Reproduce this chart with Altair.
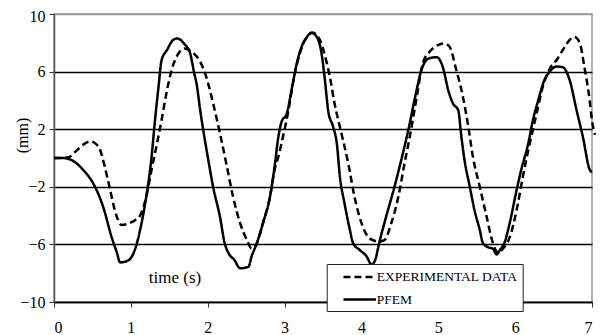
import altair as alt
import pandas as pd

series_names = ["EXPERIMENTAL DATA", "PFEM"]
x_ticks = [0, 1, 2, 3, 4, 5, 6, 7]
y_ticks = [-10, -6, -2, 2, 6, 10]

exp_t = [0, 0.1, 0.19, 0.3, 0.4, 0.47, 0.54, 0.6, 0.66, 0.73, 0.79, 0.88, 0.99, 1.06, 1.12,
         1.2, 1.27, 1.34, 1.40, 1.47, 1.53, 1.62, 1.70, 1.77, 1.81, 1.90, 1.98, 2.07, 2.16,
         2.25, 2.33, 2.42, 2.51, 2.57, 2.64, 2.72, 2.81, 2.87, 2.92, 2.98, 3.05, 3.11, 3.2,
         3.29, 3.37, 3.46, 3.54, 3.59, 3.65, 3.74, 3.83, 3.91, 4.0, 4.11, 4.22, 4.30, 4.39,
         4.48, 4.56, 4.63, 4.72, 4.80, 4.89, 5.0, 5.08, 5.15, 5.23, 5.32, 5.39, 5.45, 5.54,
         5.63, 5.71, 5.78, 5.84, 5.93, 6.02, 6.10, 6.19, 6.28, 6.36, 6.45, 6.54, 6.62, 6.71,
         6.77, 6.84, 6.90, 6.97, 7.0, 7.04]
exp_v = [0, 0, 0.05, 0.55, 1.0, 1.15, 1.0, 0.56, -0.6, -2.2, -3.6, -4.65, -4.5, -4.3, -4.0,
         -2.7, -0.8, 1.0, 2.64, 4.7, 6.1, 7.27, 7.6, 7.45, 7.3, 6.7, 5.65, 3.8, 1.7,
         -0.6, -2.7, -4.5, -5.7, -6.27, -5.9, -4.5, -2.7, -0.83, 0.1, 1.5, 3.3, 5.2, 7.3,
         8.4, 8.7, 8.2, 6.8, 5.6, 3.8, 1.7, -0.4, -2.7, -4.5, -5.6, -5.8, -5.7, -4.5,
         -2.7, -0.4, 1.5, 4.26, 6.6, 7.4, 7.85, 7.96, 7.7, 6.2, 4.26, 2.2, 0.1, -2.0,
         -4.1, -5.9, -6.6, -6.3, -5.5, -3.6, -1.3, 1.0, 3.1, 4.95, 6.2, 6.8, 7.5, 8.2,
         8.4, 8.0, 6.35, 4.0, 2.6, 1.6]

pfem_t = [0, 0.1, 0.18, 0.3, 0.38, 0.51, 0.64, 0.75, 0.82, 0.86, 0.97, 1.05, 1.14, 1.2,
          1.27, 1.31, 1.36, 1.40, 1.47, 1.55, 1.60, 1.70, 1.77, 1.82, 1.86, 1.90, 1.94, 2.0,
          2.07, 2.16, 2.22, 2.27, 2.35, 2.42, 2.53, 2.57, 2.64, 2.72, 2.81, 2.87, 2.92, 2.96,
          3.03, 3.09, 3.16, 3.22, 3.29, 3.35, 3.42, 3.48, 3.52, 3.57, 3.63, 3.68, 3.72, 3.78,
          3.85, 3.89, 3.98, 4.07, 4.13, 4.17, 4.24, 4.32, 4.43, 4.52, 4.61, 4.70, 4.78, 4.87,
          4.98, 5.06, 5.13, 5.19, 5.26, 5.30, 5.34, 5.41, 5.47, 5.54, 5.58, 5.65, 5.71, 5.76,
          5.80, 5.86, 5.93, 6.02, 6.08, 6.17, 6.23, 6.30, 6.38, 6.45, 6.54, 6.62, 6.71, 6.80,
          6.88, 6.97, 7.0]
pfem_v = [0, 0, -0.05, -0.4, -0.83, -1.76, -3.4, -5.5, -6.6, -7.25, -7.1, -6.4, -4.5, -2.7,
          0.1, 2.4, 4.95, 6.8, 7.5, 8.2, 8.3, 7.9, 7.3, 6.0, 5.0, 3.4, 2.0, 0.1,
          -2.0, -4.1, -5.9, -6.6, -7.1, -7.66, -7.55, -6.85, -5.9, -4.5, -2.7, -0.6, 1.5, 2.5,
          3.1, 4.7, 6.6, 7.7, 8.4, 8.7, 8.4, 7.3, 5.65, 3.2, 2.2, 1.0, -1.3, -3.15,
          -5.0, -5.9, -6.4, -6.85, -7.4, -7.2, -5.7, -4.1, -2.0, -0.1, 1.94, 4.26, 6.1, 6.9,
          7.0, 6.3, 4.7, 3.8, 3.3, 1.5, -0.1, -2.0, -3.6, -5.0, -5.9, -6.2, -6.3, -6.7,
          -6.4, -5.9, -4.5, -2.2, -0.8, 1.0, 2.6, 4.0, 5.4, 6.0, 6.35, 6.3, 5.4, 3.3,
          1.5, -0.8, -1.0]

df = pd.concat([
    pd.DataFrame({"t": exp_t, "v": exp_v, "series": series_names[0]}),
    pd.DataFrame({"t": pfem_t, "v": pfem_v, "series": series_names[1]}),
], ignore_index=True)

FONT = "Liberation Serif"

chart = alt.Chart(df).mark_line(
    color="black", strokeWidth=2.5, interpolate="monotone"
).encode(
    x=alt.X("t:Q",
            scale=alt.Scale(domain=[0, 7], nice=False, zero=False),
            axis=alt.Axis(values=x_ticks, title="time (s)", grid=False,
                          titleX=120.5, titleY=-25, titleAlign="center",
                          titleBaseline="middle", titleAngle=0,
                          titleFontSize=17, labelFontSize=16,
                          tickSize=5, labelPadding=12,
                          domainColor="black", domainWidth=1.5,
                          tickColor="#333")),
    y=alt.Y("v:Q",
            scale=alt.Scale(domain=[-10, 10], nice=False, zero=False),
            axis=alt.Axis(values=y_ticks, title="(mm)", grid=True,
                          gridColor={"expr": "datum.value == 10 ? '#999999' : 'black'"},
                          gridWidth=1.4,
                          labelOffset={"expr": "datum.value == 10 ? 2 : 0"},
                          titleX=-31.5, titleY=121, titleAngle=-90,
                          titleAlign="center", titleBaseline="middle",
                          titleFontSize=16, labelFontSize=16,
                          tickSize=5, labelPadding=4,
                          domainColor="#555555", domainWidth=1.5,
                          tickColor="#333")),
    strokeDash=alt.StrokeDash(
        "series:N",
        scale=alt.Scale(domain=series_names, range=[[7, 4], [1, 0]]),
        legend=alt.Legend(
            title=None, orient="none", legendX=272.7, legendY=250,
            padding=5, fillColor="white", strokeColor="#222222",
            symbolType="M-2.5,0H2.5", symbolSize=169,
            symbolStrokeWidth=2.6, symbolStrokeColor="black",
            symbolOffset=20, labelOffset=9,
            labelFont=FONT, labelFontSize=13.5, labelColor="black",
            rowPadding=7.5,
            labelExpr="datum.label + '    '",
        ),
    ),
).properties(
    width=538, height=288, autosize="none",
    padding={"left": 46, "top": 6, "right": 8, "bottom": 40},
).configure_axis(
    labelFont=FONT, titleFont=FONT, labelColor="black", titleColor="black",
    titleFontWeight="normal",
).configure_view(
    stroke="#999999", strokeWidth=1.5,
)

chart.save("out.html", embed_options={"renderer": "svg", "actions": False})
